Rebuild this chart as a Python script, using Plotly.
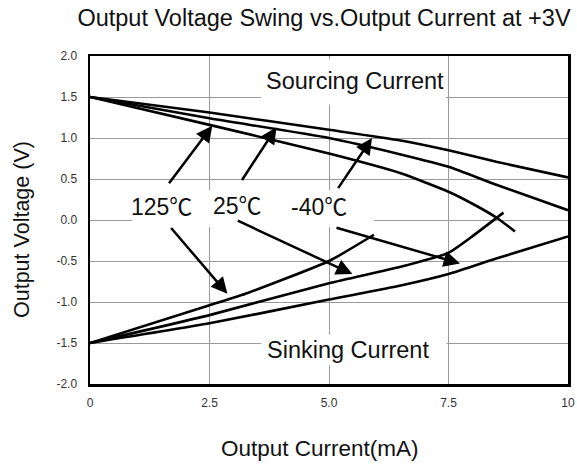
import plotly.graph_objects as go

# ---------------- data ----------------
# Sourcing current curves (upper branch)
src_x_m40 = [0, 2.5, 5.0, 6.5, 7.5, 8.5, 10]
src_v_m40 = [1.5, 1.31, 1.10, 0.97, 0.85, 0.71, 0.52]
src_x_25 = [0, 2.5, 5.0, 6.5, 7.5, 8.5, 10]
src_v_25 = [1.5, 1.24, 1.00, 0.80, 0.65, 0.43, 0.12]
src_x_125 = [0, 2.5, 5.0, 6.5, 7.5, 8.06, 8.5, 8.89]
src_v_125 = [1.5, 1.16, 0.81, 0.57, 0.345, 0.18, 0.03, -0.14]

# Sinking current curves (lower branch)
snk_x_125 = [0, 2.5, 3.3, 5.0, 5.94]
snk_v_125 = [-1.5, -1.04, -0.89, -0.50, -0.18]
snk_x_25 = [0, 2.5, 5.0, 6.5, 7.5, 7.95, 8.65]
snk_v_25 = [-1.5, -1.16, -0.77, -0.57, -0.40, -0.22, 0.09]
snk_x_m40 = [0, 2.5, 5.0, 6.5, 7.5, 8.5, 10]
snk_v_m40 = [-1.5, -1.26, -0.97, -0.80, -0.66, -0.47, -0.20]

# Temperature labels and arrows (tail -> head)
temp_labels = ["125\u2103", "25\u2103", "-40\u2103"]
temp_label_x = [1.5, 3.08, 4.79]
temp_label_y = [0.16, 0.17, 0.16]
arrow_tail_x = [1.63, 1.67, 3.16, 3.06, 5.17, 5.125]
arrow_tail_y = [0.43, -0.08, 0.47, 0.0, 0.37, -0.09]
arrow_head_x = [2.56, 2.875, 3.90, 5.49, 5.90, 7.74]
arrow_head_y = [1.15, -0.90, 1.13, -0.66, 1.00, -0.53]

region_labels = ["Sourcing Current", "Sinking Current"]
region_label_x = [5.54, 5.40]
region_label_y = [1.70, -1.585]

x_tickvals = [0, 2.5, 5, 7.5, 10]
x_ticktext = ["0", "2.5", "5.0", "7.5", "10"]
y_tickvals = [2.0, 1.5, 1.0, 0.5, 0.0, -0.5, -1.0, -1.5, -2.0]
y_ticktext = ["2.0", "1.5", "1.0", "0.5", "0.0", "-0.5", "-1.0", "-1.5", "-2.0"]

title_text = "Output Voltage Swing vs.Output Current at +3V"
x_title = "Output Current(mA)"
y_title = "Output Voltage (V)"

FONT = "Liberation Sans, Arial, Noto Sans CJK SC, sans-serif"

W, H = 577, 468
ML, MR, MT, MB = 90, 9, 56, 84
PW, PH = W - ML - MR, H - MT - MB


def px_to_paper(px, py):
    return ((px - ML) / PW, (H - MB - py) / PH)


# ---------------- figure ----------------
fig = go.Figure()
curves = [
    (src_x_m40, src_v_m40), (src_x_25, src_v_25), (src_x_125, src_v_125),
    (snk_x_125, snk_v_125), (snk_x_25, snk_v_25), (snk_x_m40, snk_v_m40),
]
for xs, vs in curves:
    fig.add_trace(go.Scatter(
        x=xs, y=vs, mode="lines",
        line=dict(color="black", width=2.6, shape="spline", smoothing=0.5),
        showlegend=False, hoverinfo="skip",
    ))

shapes = [
    dict(type="rect", xref="x", yref="y", x0=3.58, x1=7.45, y0=1.41, y1=1.96,
         fillcolor="white", line=dict(width=0), layer="between"),
    dict(type="rect", xref="x", yref="y", x0=0.875, x1=5.94, y0=-0.085, y1=0.366,
         fillcolor="white", line=dict(width=0), layer="between"),
    dict(type="rect", xref="x", yref="y", x0=3.58, x1=7.46, y0=-1.77, y1=-1.40,
         fillcolor="white", line=dict(width=0), layer="between"),
]

annotations = []
for t, x, y in zip(temp_labels, temp_label_x, temp_label_y):
    annotations.append(dict(x=x, y=y, xref="x", yref="y", text=t, showarrow=False,
                            font=dict(family=FONT, size=23, color="#111"),
                            xanchor="center", yanchor="middle"))
for t, x, y in zip(region_labels, region_label_x, region_label_y):
    annotations.append(dict(x=x, y=y, xref="x", yref="y", text=t, showarrow=False,
                            font=dict(family=FONT, size=23.5, color="#111"),
                            xanchor="center", yanchor="middle"))
for tx, ty, hx, hy in zip(arrow_tail_x, arrow_tail_y, arrow_head_x, arrow_head_y):
    annotations.append(dict(x=hx, y=hy, ax=tx, ay=ty, xref="x", yref="y",
                            axref="x", ayref="y", text="", showarrow=True,
                            arrowhead=2, arrowsize=1.3, arrowwidth=2.5,
                            arrowcolor="black", standoff=0, startstandoff=0))
# axis titles
xt = px_to_paper(320, 448)
annotations.append(dict(x=xt[0], y=xt[1], xref="paper", yref="paper",
                        text=x_title, showarrow=False,
                        font=dict(family=FONT, size=22.5, color="#111"),
                        xanchor="center", yanchor="middle"))
yt = px_to_paper(22, 230)
annotations.append(dict(x=yt[0], y=yt[1], xref="paper", yref="paper",
                        text=y_title, showarrow=False, textangle=-90,
                        font=dict(family=FONT, size=21.5, color="#111"),
                        xanchor="center", yanchor="middle"))

fig.update_layout(
    width=W, height=H,
    margin=dict(l=ML, r=MR, t=MT, b=MB, autoexpand=False),
    paper_bgcolor="white", plot_bgcolor="white",
    title=dict(text=title_text, x=324 / W, xref="container", xanchor="center",
               y=1 - 18 / H, yref="container", yanchor="middle",
               font=dict(family=FONT, size=23.5, color="#111")),
    shapes=shapes, annotations=annotations,
    xaxis=dict(range=[0, 10], tickvals=x_tickvals, ticktext=x_ticktext,
               showgrid=True, gridcolor="#9a9a9a", gridwidth=1, zeroline=False,
               showline=True, mirror=True, linecolor="black", linewidth=2.5,
               ticks="", ticklabelstandoff=6,
               tickfont=dict(family=FONT, size=12, color="#333")),
    yaxis=dict(range=[-2, 2], tickvals=y_tickvals, ticktext=y_ticktext,
               showgrid=True, gridcolor="#9a9a9a", gridwidth=1, zeroline=False,
               showline=True, mirror=True, linecolor="black", linewidth=2.5,
               ticks="", ticklabelstandoff=8,
               tickfont=dict(family=FONT, size=12, color="#333")),
)

# remove the default 8px page margin so the figure sits at the window origin
fig.write_html(
    "out.html",
    config={"displayModeBar": False, "staticPlot": True},
    post_script="document.body.style.margin='0';"
                "document.documentElement.style.overflow='hidden';",
)
